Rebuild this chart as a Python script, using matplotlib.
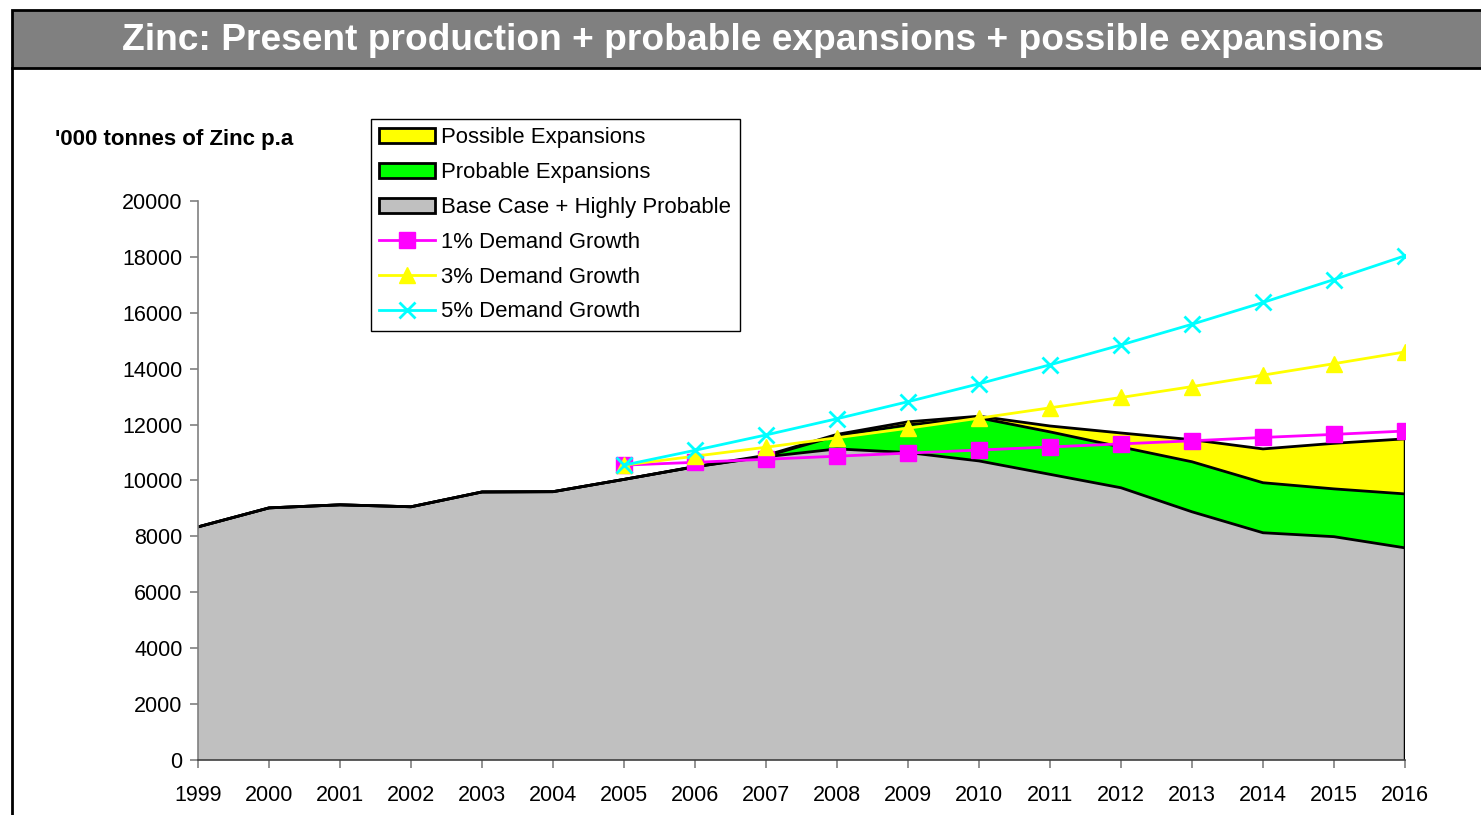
import matplotlib
matplotlib.use("Agg")
import matplotlib.pyplot as plt
from matplotlib.patches import Rectangle, Patch
from matplotlib.lines import Line2D

plt.rcParams['font.family'] = ['Liberation Sans', 'DejaVu Sans']

years = list(range(1999, 2017))
base = [8340, 9020, 9130, 9060, 9590, 9600, 10040, 10490, 10850, 11130, 11000,
        10700, 10220, 9740, 8880, 8130, 7990, 7590]
probable_top = [8340, 9020, 9130, 9060, 9590, 9600, 10040, 10490, 10870, 11600, 11990,
                12240, 11740, 11200, 10670, 9920, 9700, 9520]
total_top = [8340, 9020, 9130, 9060, 9590, 9600, 10040, 10500, 10900, 11650, 12100,
             12300, 11950, 11700, 11460, 11130, 11330, 11490]

demand_years = list(range(2005, 2017))
demand_1 = [10550, 10650, 10760, 10870, 10980, 11090, 11200, 11310, 11420, 11540, 11650, 11770]
demand_3 = [10550, 10870, 11190, 11530, 11870, 12230, 12600, 12970, 13360, 13770, 14180, 14600]
demand_5 = [10550, 11080, 11630, 12210, 12820, 13460, 14140, 14850, 15590, 16370, 17190, 18040]

title = "Zinc: Present production + probable expansions + possible expansions"
ylabel = "'000 tonnes of Zinc p.a"

W, H = 1481, 815
fig = plt.figure(figsize=(W / 100, H / 100), dpi=100)

# title band
fig.patches.append(Rectangle((12 / W, 1 - 68 / H), 1.0, (68 - 10) / H, transform=fig.transFigure,
                             facecolor='#808080', edgecolor='black', linewidth=2, zorder=0))
fig.add_artist(Line2D([12 / W, 12 / W], [0, 1 - 68 / H], color='black', lw=2, transform=fig.transFigure))
fig.text(753 / W, 1 - 41 / H, title, color='white', fontsize=26.7, fontweight='bold',
         ha='center', va='center')

ax = fig.add_axes([198 / W, (H - 760) / H, (1405 - 198) / W, (760 - 201) / H])
ax.set_xlim(1999, 2016)
ax.set_ylim(0, 20000)

ax.fill_between(years, 0, base, facecolor='#C0C0C0', edgecolor='none', zorder=1)
ax.fill_between(years, base, probable_top, facecolor='#00FF00', edgecolor='none', zorder=1)
ax.fill_between(years, probable_top, total_top, facecolor='#FFFF00', edgecolor='none', zorder=1)
ax.plot(years, base, color='black', lw=2, zorder=2)
ax.plot(years, probable_top, color='black', lw=2, zorder=2)
ax.plot(years, total_top, color='black', lw=2, zorder=2)
ax.plot([years[-1], years[-1]], [0, total_top[-1]], color='black', lw=2.5, zorder=2)

ax.plot(demand_years, demand_1, color='#FF00FF', lw=2, marker='s', markersize=11,
        markerfacecolor='#FF00FF', markeredgecolor='#FF00FF', zorder=5)
ax.plot(demand_years, demand_3, color='#FFFF00', lw=2, marker='^', markersize=12,
        markerfacecolor='#FFFF00', markeredgecolor='#FFFF00', zorder=5)
ax.plot(demand_years, demand_5, color='#00FFFF', lw=2, marker='x', markersize=12,
        markeredgewidth=2, zorder=5)

for s in ['top', 'right']:
    ax.spines[s].set_visible(False)
ax.spines['left'].set_color('#808080')
ax.spines['left'].set_linewidth(1.2)
ax.spines['bottom'].set_color('#404040')
ax.spines['bottom'].set_linewidth(1.2)
ax.set_xticks(years)
ax.set_yticks(range(0, 20001, 2000))
ax.tick_params(axis='both', colors='#808080', labelcolor='black', labelsize=15.5, length=6, width=1.2)
ax.tick_params(axis='x', pad=12)
ax.tick_params(axis='y', pad=5)

fig.text(55 / W, 1 - 140 / H, ylabel, fontsize=16, fontweight='bold', ha='left', va='center')

handles = [
    Patch(facecolor='#FFFF00', edgecolor='black', linewidth=2),
    Patch(facecolor='#00FF00', edgecolor='black', linewidth=2),
    Patch(facecolor='#C0C0C0', edgecolor='black', linewidth=2),
    Line2D([], [], color='#FF00FF', lw=2, marker='s', markersize=11),
    Line2D([], [], color='#FFFF00', lw=2, marker='^', markersize=12),
    Line2D([], [], color='#00FFFF', lw=2, marker='x', markersize=12, markeredgewidth=2),
]
labels = ['Possible Expansions', 'Probable Expansions', 'Base Case + Highly Probable',
          '1% Demand Growth', '3% Demand Growth', '5% Demand Growth']
leg = fig.legend(handles, labels, loc='upper left', bbox_to_anchor=(371 / W, 1 - 119 / H),
                 bbox_transform=fig.transFigure, fontsize=15.9, frameon=True, fancybox=False,
                 edgecolor='black', framealpha=1, borderaxespad=0, handlelength=2.5,
                 handletextpad=0.3, labelspacing=0.625, borderpad=0.38)
leg.get_frame().set_linewidth(1)

fig.savefig('out.png', dpi=100)
